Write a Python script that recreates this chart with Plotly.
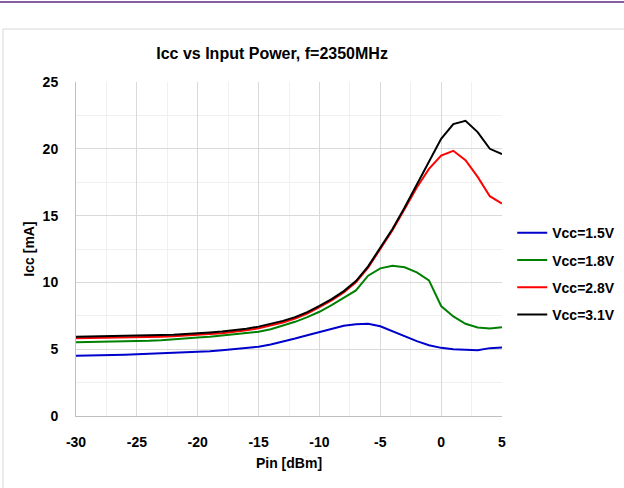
import plotly.graph_objects as go

pin = list(range(-30, 6))

icc_15 = [4.51, 4.52, 4.54, 4.56, 4.59, 4.62, 4.65, 4.68, 4.71, 4.74, 4.78, 4.84, 4.92, 5.00, 5.09, 5.19,
          5.35, 5.55, 5.80, 6.05, 6.30, 6.55, 6.75, 6.87, 6.90, 6.72, 6.35, 6.00, 5.60, 5.30, 5.10, 5.00,
          4.95, 4.92, 5.08, 5.12]
icc_18 = [5.52, 5.53, 5.54, 5.56, 5.58, 5.60, 5.63, 5.67, 5.72, 5.79, 5.87, 5.94, 6.02, 6.10, 6.20, 6.31,
          6.50, 6.75, 7.05, 7.40, 7.80, 8.30, 8.85, 9.40, 10.50, 11.05, 11.25, 11.13, 10.75, 10.15, 8.23, 7.45,
          6.90, 6.62, 6.55, 6.65]
icc_28 = [5.82, 5.83, 5.84, 5.86, 5.87, 5.89, 5.91, 5.94, 5.97, 6.01, 6.07, 6.13, 6.20, 6.29, 6.41, 6.57,
          6.76, 7.00, 7.29, 7.67, 8.15, 8.65, 9.25, 10.00, 11.10, 12.50, 13.90, 15.50, 17.10, 18.50, 19.50, 19.85,
          19.15, 17.90, 16.45, 15.90]
icc_31 = [5.94, 5.95, 5.96, 5.98, 5.99, 6.01, 6.03, 6.06, 6.09, 6.13, 6.19, 6.25, 6.32, 6.41, 6.53, 6.69,
          6.88, 7.12, 7.40, 7.78, 8.25, 8.75, 9.35, 10.10, 11.20, 12.60, 14.00, 15.60, 17.30, 19.10, 20.75, 21.85,
          22.10, 21.25, 20.00, 19.60]

series = [("Vcc=1.5V", icc_15, "#0000cc"),
          ("Vcc=1.8V", icc_18, "#008000"),
          ("Vcc=2.8V", icc_28, "#ff0000"),
          ("Vcc=3.1V", icc_31, "#000000")]

x_ticks = [-30, -25, -20, -15, -10, -5, 0, 5]
y_ticks = [0, 5, 10, 15, 20, 25]

FONT = "Liberation Sans, Arial, sans-serif"

fig = go.Figure()
for i, (name, vals, col) in enumerate(series):
    fig.add_trace(go.Scatter(x=pin, y=vals, mode="lines", name=f"<b>{name}</b>", legendgroup=f"g{i}",
                             line=dict(color=col, width=2)))

fig.update_layout(
    width=624, height=488,
    margin=dict(l=76, r=122, t=82, b=72, autoexpand=False),
    paper_bgcolor="white", plot_bgcolor="white",
    font=dict(family=FONT, size=12, color="#000000"),
    title=dict(text="<b>Icc vs Input Power, f=2350MHz</b>", x=0.436, xanchor="center",
               y=1 - 53 / 488, yanchor="middle", font=dict(size=16, color="#000000")),
    showlegend=True,
    legend=dict(x=1.024, xanchor="left", y=0.595, yanchor="top", tracegroupgap=6,
                font=dict(size=14, color="#000000"), bgcolor="rgba(0,0,0,0)",
                itemwidth=30),
    xaxis=dict(range=[-30, 5], tickvals=x_ticks, ticktext=[f"<b>{v}</b>" for v in x_ticks],
               tickfont=dict(size=14), ticklabelstandoff=13,
               showgrid=True, gridcolor="#d9d9d9", gridwidth=1,
               minor=dict(dtick=2.5, showgrid=True, gridcolor="#f0f0f0"),
               showline=True, linecolor="#bfbfbf", linewidth=1, zeroline=False,
               ticks="", title=dict(text="<b>Pin [dBm]</b>", font=dict(size=14), standoff=9)),
    yaxis=dict(range=[0, 25], tickvals=y_ticks, ticktext=[f"<b>{v}</b>" for v in y_ticks],
               tickfont=dict(size=14),
               showgrid=True, gridcolor="#d9d9d9", gridwidth=1,
               minor=dict(dtick=2.5, showgrid=True, gridcolor="#f0f0f0"),
               showline=True, linecolor="#bfbfbf", linewidth=1, zeroline=False,
               ticks="", ticklabelstandoff=14,
               title=dict(text="<b>Icc [mA]</b>", font=dict(size=14), standoff=4)),
)

# chart outer border and top purple rule
fig.add_shape(type="rect", xref="paper", yref="paper",
              x0=(3 - 76) / 426, x1=(640 - 76) / 426,
              y0=(72 - 510) / 334, y1=(416 - 29) / 334,
              line=dict(color="#d9d9d9", width=1), fillcolor="rgba(0,0,0,0)", layer="below")
fig.add_shape(type="line", xref="paper", yref="paper",
              x0=-76 / 426, x1=(624 - 76) / 426,
              y0=(416 - 2) / 334, y1=(416 - 2) / 334,
              line=dict(color="#5b2a86", width=1.5))

fig.write_html("out.html", config={"displayModeBar": False},
               post_script="document.body.style.margin='0';document.body.style.overflow='hidden';")
